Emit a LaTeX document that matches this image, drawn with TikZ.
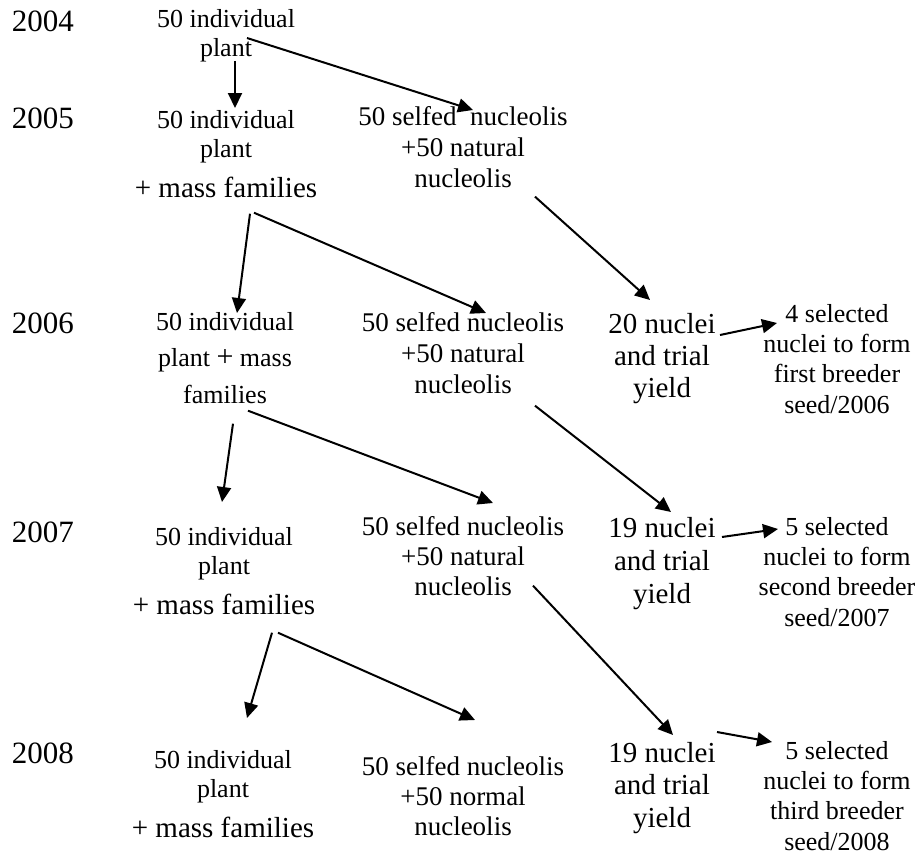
\documentclass[tikz,border=0pt]{standalone}
\usepackage{fontspec}
\setmainfont{Liberation Serif}
\usetikzlibrary{arrows.meta}
\begin{document}
\begin{tikzpicture}[x=1pt,y=-1pt,
  yr/.style={anchor=base, inner sep=0pt, font=\fontsize{31}{31}\selectfont},
  colA/.style={anchor=north, inner sep=0pt, align=center, font=\fontsize{26}{29}\selectfont},
  colB/.style={anchor=north, inner sep=0pt, align=center, font=\fontsize{27}{31}\selectfont},
  colC/.style={anchor=north, inner sep=0pt, align=center, font=\fontsize{29}{32}\selectfont},
  colD/.style={anchor=north, inner sep=0pt, align=center, font=\fontsize{26}{30.3}\selectfont},
  arr/.style={line width=2pt, -{Triangle[length=15pt,width=14pt]}}]
\useasboundingbox[fill=white] (0,0) rectangle (924,860);
% years
\node[yr] (y04) at (43,31) {2004};
\node[yr] (y05) at (43,128) {2005};
\node[yr] (y06) at (43,333) {2006};
\node[yr] (y07) at (43,542) {2007};
\node[yr] (y08) at (43,763) {2008};
% column 1
\node[colA] (p04) at (226,9) {50 individual\\plant};
\node[colA] (p05) at (226,110) {50 individual\\plant\\[11pt]{\fontsize{29}{29}\selectfont + mass families}};
\node[colA, font=\fontsize{26}{36.5}\selectfont] (p06) at (225,312) {50 individual\\plant {\fontsize{30}{30}\selectfont +} mass\\families};
\node[colA] (p07) at (224,527) {50 individual\\plant\\[11pt]{\fontsize{29}{29}\selectfont + mass families}};
\node[colA] (p08) at (223,750) {50 individual\\plant\\[11pt]{\fontsize{29}{29}\selectfont + mass families}};
% column 2
\node[colB] (n05) at (463,106) {50 selfed\ \ nucleolis\\+50 natural\\nucleolis};
\node[colB] (n06) at (463,312) {50 selfed nucleolis\\+50 natural\\nucleolis};
\node[colB, font=\fontsize{27}{30}\selectfont] (n07) at (463,516) {50 selfed nucleolis\\+50 natural\\nucleolis};
\node[colB, font=\fontsize{27}{30}\selectfont] (n08) at (463,756) {50 selfed nucleolis\\+50 normal\\nucleolis};
% column 3
\node[colC] (t06) at (662,313) {20 nuclei\\and trial\\yield};
\node[colC, font=\fontsize{29}{33}\selectfont] (t07) at (662,517) {19 nuclei\\and trial\\yield};
\node[colC, font=\fontsize{29}{32.5}\selectfont] (t08) at (662,742) {19 nuclei\\and trial\\yield};
% column 4
\node[colD] (s06) at (837,304) {4 selected\\nuclei to form\\first breeder\\seed/2006};
\node[colD] (s07) at (837,517) {5 selected\\nuclei to form\\second breeder\\seed/2007};
\node[colD] (s08) at (837,741) {5 selected\\nuclei to form\\third breeder\\seed/2008};
% arrows
\draw[arr] ([shift={(9,-1)}]p04.south) -- ([shift={(9,-2)}]p05.north);
\draw[arr] ([shift={(21,29)}]p04.north) -- ([shift={(10,4)}]n05.north);
\draw[arr] ([shift={(24,16)}]p05.south) -- ([shift={(12,1)}]p06.north);
\draw[arr] ([shift={(28,15)}]p05.south) -- ([shift={(23,1)}]n06.north);
\draw[arr] ([shift={(72,9)}]n05.south) -- ([shift={(-12,-13)}]t06.north);
\draw[arr] ([shift={(58,22)}]t06.north) -- ([shift={(-60,19)}]s06.north);
\draw[arr] ([shift={(8,20)}]p06.south) -- ([shift={(-2,-25)}]p07.north);
\draw[arr] ([shift={(23,7)}]p06.south) -- ([shift={(30,-13)}]n07.north);
\draw[arr] ([shift={(72,12)}]n06.south) -- ([shift={(9,-5)}]t07.north);
\draw[arr] ([shift={(60,20)}]t07.north) -- ([shift={(-59,12)}]s07.north);
\draw[arr] ([shift={(48,18)}]p07.south) -- ([shift={(24,-32)}]p08.north);
\draw[arr] ([shift={(54,18)}]p07.south) -- ([shift={(12,-36)}]n08.north);
\draw[arr] ([shift={(70,-10)}]n07.south) -- ([shift={(11,-7)}]t08.north);
\draw[arr] ([shift={(55,-10)}]t08.north) -- ([shift={(-65,1)}]s08.north);
\end{tikzpicture}
\end{document}
